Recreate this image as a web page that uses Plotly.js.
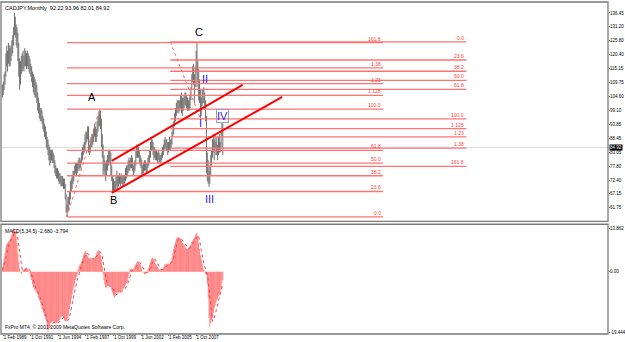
<!DOCTYPE html>
<html><head><meta charset="utf-8">
<script src="https://cdn.plot.ly/plotly-3.0.1.min.js"></script>
<style>html,body{margin:0;padding:0;background:#fff}#chart{width:625px;height:342px}</style>
</head><body><div id="chart"></div>
<script>
// ---- DATA (monthly CADJPY bars, Jan 1989 .. May 2010) ----
const startYear = 1989;
const highs = [
 109,110,113,114,121,124,122,125,124,123,124,126,
 128,131,136.5,135,132,131,129,125,119,118,120,121,
 122,120,123,122,121,122,121,120,119,117,116,114,
 113,112,111,110,109,106,104,102,100,100,99,97,
 96,94,93,91,89,88,86,85,84,84,84,83,
 82,80,78,77,77,76,75,75,74,74,74,73,
 73,71,67,63,66,66,68,72,73,74,76,76,
 78,79,79,79,80,81,81,80,83,85,86,87,
 90,91,91,93,93,86,88,89,90,90,92,94,
 93,92,95,97,98,99.6,99,96,90,86,82,80,
 79,80,82,84,84,84,83,78,74,73,72,72,
 74,76,74,74,75,74,75,74,74,74,74,77,
 78,78,80,81,80,81,82,81,78,79,80,84,
 86,85,85,84,82,81,80,78,79,80,80,79,
 79,81,82,84,87,89,88,87,85,85,84,84,
 83,84,83,82,82,83,85,86,88,89,88,88,
 87,87,89,88,88,91,93,95,98,100,102,103,
 103,103,103,105,106,104,104,105,106,106,105,104,
 103,104,105,108,113,116,117,113,116,122,125.4,118,
 115,111,107,104,107,107,108,106,103,97,83,80,
 76,78,82,84,88,90,88,90,87,89,86,89,
 90,87,91,94.5,93.96
];
const lows = [
 104,105,107,109,112,116,114,117,116,116,118,120,
 121,124,128,127,124,123,118,112,107,109,113,114,
 115,114,116,116,115,116,115,114,113,112,110,108,
 106,105,104,104,102,99,98,96,95,95,94,92,
 91,89,88,85,84,82,80,78,79,80,79,79,
 77,75,74,73,73,72,71,71,70,70,70,69,
 69,65,60,58.3,60,61,63,65,68,69,71,72,
 74,75,74,75,76,77,76,77,79,80,82,83,
 84,86,87,88,83,82,83,85,85,86,87,89,
 87,87,89,91,93,93,92,85,81,74,76,74,
 72,74,76,78,79,78,74,72,68,67.9,68,68,
 69,70,69,70,71,70,71,71,70,70,71,72,
 73,74,75,76,76,77,77,76,74,75,76,78,
 81,81,81,79,78,77,74,74,75,76,76,75,
 75,77,78,79,81,84,84,82,80,81,80,80,
 79,80,79,79,79,80,81,82,84,85,84,84,
 82,83,84,84,85,86,89,90,93,95,97,98,
 99,98,99,100,98,97,99,100,101,101,100,99,
 99,99,100,103,107,110,109,102,108,114,108,110,
 103,102,95.9,97,101,102,102,100,95,75,72,71,
 69.8,71,74,78,81,83,80,85,82,82,80,82,
 83,83,85,89,82.01
];
const lastClose = 84.92;
const titleText = "CADJPY,Monthly  92.22 93.96 82.01 84.92";

const macd = [
 1.6,3.0,4.3,5.9,7.6,8.9,9.2,9.6,9.9,10.6,11.2,11.9,
 13.2,13.862,13.5,12.5,11.2,9.2,5.9,3.3,1.0,-0.2,-0.7,0.1,
 0.7,0.7,1.0,1.3,1.3,1.0,0.6,-0.1,-0.7,-1.7,-2.6,-4.0,
 -5.0,-5.6,-5.9,-6.3,-6.6,-7.3,-8.3,-9.2,-9.9,-10.9,-11.9,-12.2,
 -13.2,-14.2,-15.2,-15.8,-17.2,-19.444,-17.8,-17.2,-16.5,-16.2,-15.8,-15.8,
 -16.2,-16.5,-16.5,-16.5,-16.2,-15.8,-15.5,-15.2,-14.5,-14.2,-14.2,-14.9,
 -15.5,-15.8,-15.8,-15.5,-14.9,-13.9,-11.9,-10.2,-8.6,-7.3,-5.9,-5.0,
 -4.0,-2.6,-1.7,-0.7,0.7,1.7,2.3,2.6,3.3,4.3,5.3,5.9,
 6.6,6.6,5.9,5.0,4.6,4.3,4.3,4.0,4.0,4.0,4.3,4.6,
 5.0,5.6,6.3,6.6,6.9,6.6,5.3,4.0,1.7,-0.7,-2.6,-4.0,
 -5.0,-5.0,-4.6,-4.3,-4.3,-4.3,-5.0,-5.9,-6.6,-7.6,-8.3,-7.9,
 -6.9,-6.6,-6.6,-6.6,-6.6,-6.3,-6.3,-5.9,-5.6,-5.3,-5.0,-4.3,
 -3.6,-3.3,-2.0,-0.7,0.7,1.0,1.0,0.7,0.7,1.3,2.0,2.3,
 3.0,3.3,3.3,2.6,2.3,1.7,0.7,0.0,-0.3,-0.7,-0.7,-0.3,
 0.1,0.7,1.3,2.3,3.3,4.0,4.6,4.3,4.0,3.6,2.6,2.0,
 1.7,1.0,0.7,0.7,0.7,0.7,0.7,1.3,2.0,2.3,2.6,2.6,
 2.6,2.6,2.6,3.0,3.6,4.6,5.9,7.3,8.6,9.6,10.6,10.9,
 11.2,10.9,10.9,10.6,9.9,9.2,8.9,8.6,8.3,7.6,7.3,7.3,
 7.6,7.9,8.3,8.9,9.6,9.9,10.6,10.9,11.6,12.2,12.5,11.2,
 9.2,7.3,5.3,4.0,2.6,1.3,0.7,0.0,-0.7,-1.0,-4.0,-8.3,
 -14.9,-17.5,-16.5,-15.5,-14.9,-13.2,-11.6,-10.9,-9.9,-9.2,-8.6,-7.9,
 -7.3,-6.3,-5.0,-3.6,-2.68
];
const signal = [
 0.5,1.2,2.0,3.0,4.5,6.0,7.2,8.2,9.0,9.6,10.1,10.6,
 11.3,12.1,12.7,13.0,12.9,12.1,10.5,8.4,6.1,3.8,1.9,0.7,
 0.2,0.1,0.4,0.8,1.0,1.1,1.0,0.8,0.4,-0.2,-0.9,-1.8,
 -2.8,-3.8,-4.6,-5.4,-5.9,-6.3,-6.8,-7.5,-8.3,-9.1,-10.0,-10.8,
 -11.6,-12.4,-13.3,-14.1,-15.1,-16.4,-16.9,-17.3,-17.6,-17.4,-16.7,-16.3,
 -16.1,-16.1,-16.2,-16.3,-16.4,-16.3,-16.1,-15.8,-15.4,-15.1,-14.7,-14.6,
 -14.7,-15.0,-15.3,-15.5,-15.5,-15.2,-14.4,-13.3,-11.9,-10.4,-8.8,-7.4,
 -6.2,-5.0,-3.8,-2.6,-1.7,-0.6,0.5,1.3,2.1,2.8,3.6,4.3,
 5.1,5.7,6.0,5.9,5.7,5.3,4.8,4.4,4.2,4.1,4.1,4.2,
 4.4,4.7,5.2,5.6,6.1,6.4,6.3,5.9,4.9,3.2,1.3,-0.3,
 -1.9,-3.1,-3.9,-4.5,-4.6,-4.5,-4.5,-4.8,-5.2,-5.8,-6.5,-7.1,
 -7.3,-7.2,-7.0,-6.7,-6.6,-6.5,-6.4,-6.3,-6.1,-5.9,-5.6,-5.3,
 -4.8,-4.3,-3.6,-2.6,-1.8,-0.9,0.0,0.5,0.8,0.9,1.1,1.4,
 1.8,2.3,2.8,2.9,2.9,2.6,2.1,1.5,0.9,0.3,-0.1,-0.3,
 -0.4,-0.2,0.2,0.7,1.5,2.3,3.1,3.7,4.0,4.1,3.8,3.3,
 2.8,2.2,1.6,1.2,0.8,0.7,0.7,0.8,1.1,1.4,1.8,2.2,
 2.4,2.5,2.6,2.6,2.8,3.1,3.7,4.6,5.9,7.2,8.4,9.4,
 10.2,10.6,10.8,10.7,10.5,10.1,9.6,9.2,8.8,8.4,8.0,7.7,
 7.6,7.5,7.6,8.0,8.5,8.9,9.4,9.9,10.4,11.0,11.6,11.7,
 11.3,10.2,8.6,6.8,5.0,3.7,2.6,1.6,0.8,0.1,-1.0,-2.8,
 -5.6,-9.1,-12.3,-14.6,-15.9,-15.6,-14.8,-13.9,-12.8,-11.6,-10.6,-9.7,
 -8.6,-7.4,-6.2,-5.0,-3.794
];
const macdLabel = "MACD(5,34,5) -2.680 -3.794";
const copyrightText = "FxPro MT4, \u00a9 2001-2009 MetaQuotes Software Corp.";

const priceTicks = [136.45,131.20,125.80,120.40,115.15,109.75,104.60,99.10,93.85,88.45,83.05,77.80,72.40,67.15,61.75,56.50];
const macdTicks = [13.862, 0, -19.444];
const macdTickText = ["13.862","0.00","-19.444"];
const dateTickYM = [[1989,2],[1991,10],[1994,6],[1997,2],[1999,10],[2002,6],[2005,2],[2007,10]];
const dateTickLabels = ["1 Feb 1989","1 Oct 1991","1 Jun 1994","1 Feb 1997","1 Oct 1999","1 Jun 2002","1 Feb 2005","1 Oct 2007"];

// Fibonacci objects: anchors [year,month], price
const fibLevels = [0,23.6,38.2,50,61.8,100,112.8,123.6,138.2,161.8];
const fibLabels = ["0.0","23.6","38.2","50.0","61.8","100.0","1.128","1.23","1.38","161.8"];
const fib1 = {t0:[1995,4], p0:58.3, t1:[1998,6], p1:99.6, tEnd:[2025,11]};
const fib2 = {t0:[2005,4], p0:125.4, t1:[2008,3], p1:95.9, tEnd:[2033,12]};
// channel lines
const channelUpper = {t0:[1999,8], p0:79.75, t1:[2012,4], p1:108.86};
const channelLower = {t0:[1999,8], p0:67.48, t1:[2016,2], p1:104.27};
// wave labels [text, [year,month], price]
const waveABC = [["A",[1997,9],104.3],["B",[1999,10],64.8],["C",[2008,1],129.2]];
const waveNum = [["I",[2008,3],94.4],["II",[2008,8],111.2],["III",[2009,2],65.2],["IV",[2010,5],97.0]];

// ---- BUILD ----
const mi = (ym) => (ym[0]-startYear)*12 + (ym[1]-1);
const n = highs.length;
const idx = highs.map((_,i)=>i);

const bx=[], by=[];
for (let i=0;i<n;i++){ bx.push(i,i,null); by.push(lows[i],highs[i],null); }

const traces = [
 {type:'scatter', mode:'lines', x:bx, y:by, xaxis:'x', yaxis:'y', line:{color:'#6f6f6f', width:1}, hoverinfo:'skip', showlegend:false},
 {type:'bar', x:idx, y:macd, xaxis:'x', yaxis:'y2', marker:{color:'rgb(255,96,96)', line:{width:0}}, showlegend:false},
 {type:'scatter', mode:'lines', x:idx, y:signal, xaxis:'x', yaxis:'y2', line:{color:'rgb(255,60,60)', width:1, dash:'dot'}, showlegend:false}
];

const shapes = [];
const annotations = [];
const FIBC = 'rgb(255,115,115)';
const TF = 'Liberation Sans, Arial';
function addFib(f){
  const x0 = mi(f.t0), x1 = mi(f.tEnd);
  const span = f.p1 - f.p0;
  fibLevels.forEach((lv,k)=>{
    const p = f.p0 + span*lv/100;
    shapes.push({type:'line', xref:'x', yref:'y', x0:x0, x1:x1, y0:p, y1:p, line:{color:FIBC, width:1.3}});
    annotations.push({xref:'x', yref:'y', x:x1, y:p, text:fibLabels[k], showarrow:false, xanchor:'right', yanchor:'bottom', yshift:-1,
      font:{family:TF, size:5, color:'rgb(255,60,60)'}});
  });
  shapes.push({type:'line', xref:'x', yref:'y', x0:mi(f.t0), y0:f.p0, x1:mi(f.t1), y1:f.p1, line:{color:'rgb(255,100,100)', width:1, dash:'dot'}});
}
addFib(fib1); addFib(fib2);

[channelUpper, channelLower].forEach(c=>{
  shapes.push({type:'line', xref:'x', yref:'y', x0:mi(c.t0), y0:c.p0, x1:mi(c.t1), y1:c.p1, line:{color:'rgb(255,0,0)', width:2}});
});

// bid line
shapes.push({type:'line', xref:'paper', yref:'y', x0:0, x1:1, y0:lastClose, y1:lastClose, layer:'below', line:{color:'#dcdcdc', width:1}});
// pane borders
shapes.push({type:'rect', xref:'paper', yref:'paper', x0:0, x1:1, y0:0.339, y1:1, line:{color:'#7a7a7a', width:1.3}});
shapes.push({type:'rect', xref:'paper', yref:'paper', x0:0, x1:1, y0:0, y1:0.3305, line:{color:'#7a7a7a', width:1.3}});

waveABC.forEach(w=>annotations.push({xref:'x', yref:'y', x:mi(w[1]), y:w[2], text:w[0], showarrow:false,
  font:{family:TF, size:11, color:'#000'}}));
waveNum.forEach(w=>{
  const a = {xref:'x', yref:'y', x:mi(w[1]), y:w[2], text:w[0], showarrow:false,
    font:{family:TF, size:11, color:'#2a2ad8'}};
  if (w[0]==='IV'){ a.bordercolor='#9a9ac8'; a.borderwidth=1; a.borderpad=0; }
  annotations.push(a);
});

annotations.push({xref:'paper', yref:'paper', x:0.003, y:0.998, xanchor:'left', yanchor:'top', text:titleText, showarrow:false,
  font:{family:TF, size:5.5, color:'#000'}});
annotations.push({xref:'paper', yref:'paper', x:0.003, y:0.325, xanchor:'left', yanchor:'top', text:macdLabel, showarrow:false,
  font:{family:TF, size:5, color:'#000'}});
annotations.push({xref:'paper', yref:'paper', x:0.003, y:0.006, xanchor:'left', yanchor:'bottom', text:copyrightText, showarrow:false,
  font:{family:TF, size:5, color:'#000'}});
annotations.push({xref:'paper', yref:'y', x:1, y:lastClose, xanchor:'left', yanchor:'middle', xshift:1, text:lastClose.toFixed(2), showarrow:false,
  bgcolor:'#000', borderpad:0, font:{family:TF, size:4.5, color:'#fff'}});

const tickFont = {family:TF, size:4.5, color:'#000'};
const layout = {
  width:625, height:342, margin:{l:1, r:17, t:2, b:8}, paper_bgcolor:'#fff', plot_bgcolor:'#fff',
  showlegend:false, bargap:0.15,
  xaxis:{domain:[0,1], anchor:'y2', range:[-1.63, 703.4], showgrid:false, zeroline:false, showline:false,
    tickvals:dateTickYM.map(mi), ticktext:dateTickLabels, ticks:'outside', ticklen:1, tickcolor:'#777',
    tickangle:0, automargin:false, ticklabelstandoff:-1, ticklabelposition:'outside right', tickfont:tickFont},
  yaxis:{domain:[0.339,1], anchor:'x', side:'right', range:[56.56,140.66], showgrid:false, zeroline:false,
    tickvals:priceTicks, ticktext:priceTicks.map(v=>v.toFixed(2)), ticks:'outside', ticklen:1, tickcolor:'#777',
    automargin:false, ticklabelstandoff:-1, tickfont:tickFont},
  yaxis2:{domain:[0,0.3305], anchor:'x', side:'right', range:[-19.9,15.2], showgrid:false, zeroline:false,
    tickvals:macdTicks, ticktext:macdTickText, ticks:'outside', ticklen:1, tickcolor:'#777',
    automargin:false, ticklabelstandoff:-1, tickfont:tickFont},
  shapes:shapes, annotations:annotations
};
Plotly.newPlot('chart', traces, layout, {staticPlot:true, displayModeBar:false});
</script>
</body></html>
